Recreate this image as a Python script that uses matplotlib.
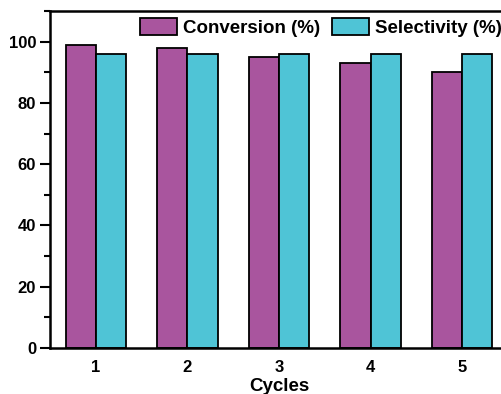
import matplotlib
matplotlib.use("Agg")
import matplotlib.pyplot as plt
import numpy as np
from matplotlib.ticker import MultipleLocator

cycles = ["1", "2", "3", "4", "5"]
conversion = [99, 98, 95, 93, 90]
selectivity = [96, 96, 96, 96, 96]

plt.rcParams['font.family'] = ['Liberation Sans', 'DejaVu Sans']
plt.rcParams['font.weight'] = 'bold'

W, H = 502, 394
fig = plt.figure(figsize=(W/100, H/100), dpi=100)
ax = fig.add_axes([50/W, (H-348)/H, (508-50)/W, (348-11)/H])

x = np.arange(1, len(cycles)+1)
bw = 0.33
ax.bar(x - bw/2, conversion, bw, color='#A9559E', edgecolor='black', linewidth=1.3, label='Conversion (%)')
ax.bar(x + bw/2, selectivity, bw, color='#4FC4D6', edgecolor='black', linewidth=1.3, label='Selectivity (%)')

ax.set_xlim(0.5, 5.5)
ax.set_ylim(0, 110)
ax.set_xticks(x)
ax.set_xticklabels(cycles)
ax.yaxis.set_major_locator(MultipleLocator(20))
ax.yaxis.set_minor_locator(MultipleLocator(10))
ax.tick_params(axis='x', length=0, pad=9, labelsize=12)
ax.tick_params(axis='y', which='major', length=7, width=1.5, direction='out', labelsize=12, pad=3)
ax.tick_params(axis='y', which='minor', length=4, width=1.5, direction='out')
for s in ax.spines.values():
    s.set_linewidth(1.8)
ax.set_xlabel('Cycles', fontsize=13.5, fontweight='bold', labelpad=2)

leg = ax.legend(loc='upper left', bbox_to_anchor=(140/W, (H-18)/H), bbox_transform=fig.transFigure,
                ncol=2, frameon=False, fontsize=13.5, handlelength=2.0, handleheight=1.0,
                columnspacing=0.6, handletextpad=0.3, borderaxespad=0, borderpad=0)

fig.savefig('out.png', dpi=100)
